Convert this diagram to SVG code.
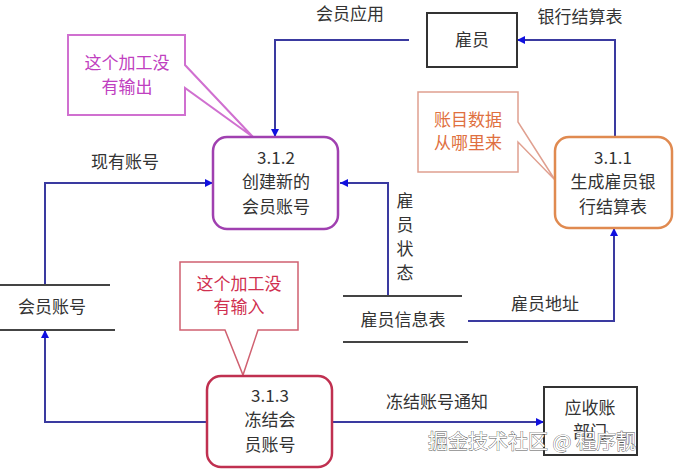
<svg xmlns="http://www.w3.org/2000/svg" width="676" height="471" viewBox="0 0 676 471">
<defs>
<marker id="a" viewBox="0 0 10 10" refX="10" refY="5" markerWidth="8" markerHeight="8" orient="auto" markerUnits="userSpaceOnUse"><path d="M0,0L10,5L0,10z" fill="#1010e0"/></marker>
<style>
text{font-family:"Noto Sans CJK SC","Liberation Serif",serif;font-size:17px;fill:#333;text-anchor:middle}
.c{fill:none;stroke:#3a3aa0;stroke-width:2;marker-end:url(#a)}
.s{stroke:#444;stroke-width:2}
</style>
</defs>
<rect width="676" height="471" fill="#fff"/>
<g id="connectors">
<path class="c" d="M409,40H275V137"/>
<path class="c" d="M615,137V40H517"/>
<path class="c" d="M388,296V183H340"/>
<path class="c" d="M468,321H614V228"/>
<path class="c" d="M45,285V183H213"/>
<path class="c" d="M207,422H45V330"/>
<path class="c" d="M332,422H544"/>
<text x="350" y="20">会员应用</text>
<text x="580" y="23">银行结算表</text>
<text x="125" y="168">现有账号</text>
<text x="405" y="207">雇</text><text x="405" y="231">员</text><text x="405" y="255">状</text><text x="405" y="279">态</text>
<text x="545" y="310">雇员地址</text>
<text x="437" y="408">冻结账号通知</text>
</g>
<g id="callout1"><path d="M68,35H185V65L253,137L185,88V115H68Z" fill="#fff" stroke="#d070d0" stroke-width="2"/>
<text x="127" y="69" fill="#c040c0" style="fill:#c040c0">这个加工没</text><text x="127" y="93" style="fill:#c040c0">有输出</text></g>
<g id="callout2"><path d="M418,92H518V122L555,180L518,142V172H418Z" fill="#fff" stroke="#e0a090" stroke-width="1.5"/>
<text x="468" y="126" style="fill:#e07040">账目数据</text><text x="468" y="149" style="fill:#e07040">从哪里来</text></g>
<g id="callout3"><path d="M180,262H298V330H258L243,375L225,330H180Z" fill="#fff" stroke="#d06070" stroke-width="1.5"/>
<text x="239" y="290" style="fill:#d03050">这个加工没</text><text x="239" y="313" style="fill:#d03050">有输入</text></g>
<g id="n312"><rect x="213" y="137" width="125" height="92" rx="14" fill="#fff" stroke="#a040b0" stroke-width="2.5"/>
<text x="276" y="164">3.1.2</text><text x="276" y="188">创建新的</text><text x="276" y="213">会员账号</text></g>
<g id="n311"><rect x="555" y="137" width="117" height="91" rx="14" fill="#fff" stroke="#e08a50" stroke-width="2.5"/>
<text x="613" y="164">3.1.1</text><text x="613" y="188">生成雇员银</text><text x="613" y="213">行结算表</text></g>
<g id="n313"><rect x="207" y="376" width="125" height="91" rx="14" fill="#fff" stroke="#c03050" stroke-width="2.5"/>
<text x="270" y="402">3.1.3</text><text x="270" y="426">冻结会</text><text x="270" y="451">员账号</text></g>
<g id="gy"><rect x="427" y="13" width="90" height="54" fill="#fff" stroke="#333" stroke-width="2"/><text x="472" y="46">雇员</text></g>
<g id="ys"><rect x="544" y="387" width="93" height="68" fill="#fff" stroke="#333" stroke-width="2"/><text x="590" y="414">应收账</text><text x="590" y="438">部门</text></g>
<g id="hyzh"><line class="s" x1="0" y1="285" x2="110" y2="285"/><line class="s" x1="0" y1="330" x2="115" y2="330"/><text x="52" y="313">会员账号</text></g>
<g id="gyxx"><line class="s" x1="343" y1="296" x2="462" y2="296"/><line class="s" x1="343" y1="342" x2="468" y2="342"/><text x="403" y="326">雇员信息表</text></g>
<text x="532" y="449" style="font-size:20px;fill:#fff;stroke:#555;stroke-width:0.8;paint-order:stroke">掘金技术社区 @ 程序靓</text>
</svg>
